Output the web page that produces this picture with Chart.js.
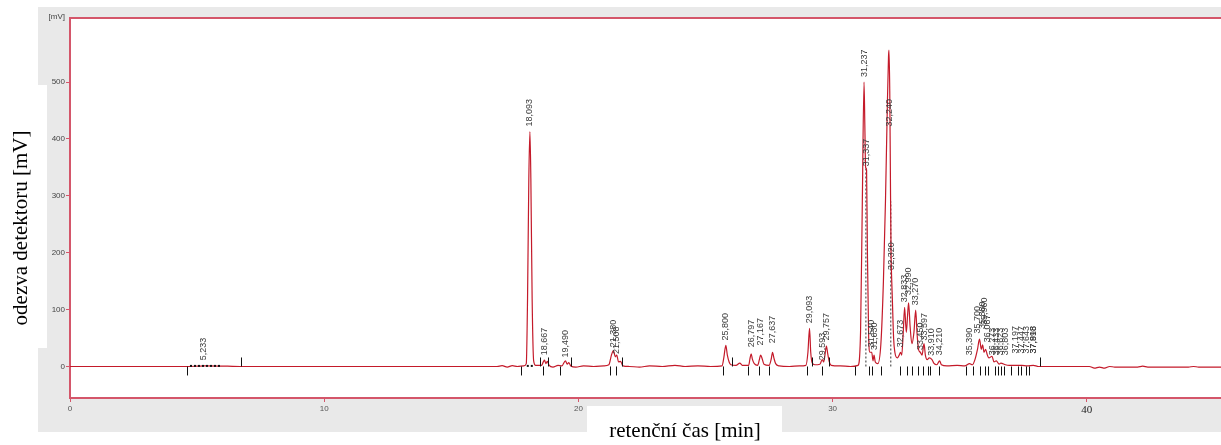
<!DOCTYPE html>
<html>
<head>
<meta charset="utf-8">
<script src="https://cdn.jsdelivr.net/npm/chart.js@4.4.1/dist/chart.umd.min.js"></script>
<style>
  html, body { margin: 0; padding: 0; background: #ffffff; }
  canvas { display: block; }
</style>
</head>
<body>
<canvas id="c" width="1221" height="445"></canvas>
<script>
// Chromatogram trace: retention time [min] and detector response [mV]
const traceTime = [
  0, 4.5, 5.0, 5.3, 6.2, 6.7, 16.8, 17.0, 17.2, 17.4, 17.6, 17.85,
  17.95, 18.0, 18.05, 18.093, 18.13, 18.18, 18.24, 18.32,
  18.55, 18.62, 18.667, 18.72, 18.78, 18.85, 19.0, 19.2, 19.35, 19.49, 19.56, 19.62, 19.7, 19.9,
  20.2, 20.6, 21.0, 21.2, 21.3, 21.38, 21.45, 21.508, 21.58, 21.66, 21.75,
  22.0, 22.4, 22.8, 23.3, 23.8, 24.2, 24.7, 25.2, 25.65,
  25.72, 25.8, 25.86, 25.93, 26.0, 26.2, 26.35, 26.45, 26.7,
  26.75, 26.797, 26.85, 26.92, 27.05, 27.12, 27.167, 27.22, 27.3, 27.5, 27.59, 27.637, 27.69, 27.76, 27.9,
  28.3, 28.7, 28.95, 29.03, 29.093, 29.14, 29.2, 29.3, 29.5, 29.593, 29.65, 29.7, 29.757, 29.81, 29.87, 29.95,
  30.3, 30.7, 31.0, 31.1, 31.17, 31.237, 31.27, 31.3, 31.337, 31.37, 31.42, 31.47,
  31.54, 31.59, 31.63, 31.68, 31.78, 31.9, 32.0, 32.08, 32.15, 32.2, 32.22, 32.25, 32.28, 32.3, 32.32, 32.35, 32.4, 32.45,
  32.55, 32.62, 32.673, 32.72, 32.78, 32.833, 32.9, 32.95, 32.99, 33.05, 33.12, 33.2, 33.27, 33.32, 33.38,
  33.45, 33.52, 33.597, 33.65, 33.72, 33.8, 33.91, 33.98, 34.1, 34.21, 34.28, 34.5, 34.9, 35.2, 35.39, 35.5,
  35.6, 35.7, 35.78, 35.85, 35.9, 35.96, 36.02, 36.09, 36.15, 36.27, 36.35, 36.44, 36.55, 36.62, 36.8, 36.95,
  37.2, 37.45, 37.65, 37.9, 38.1, 40.1, 40.3, 40.5, 40.7, 40.9, 41.1, 42.0, 42.2, 42.4, 44.0, 44.2, 44.4, 45.3
];
const traceMV = [
  0, 0, 0.5, 1, 0.5, 0, 0, 1.5, -1, 1.5, 0, 1,
  5, 120, 330, 413, 330, 120, 10, 2,
  2, 8, 11, 5, 9, 2, -1, 2, 1, 10, 4, 7, 1, -1,
  1, 0, 1, 3, 20, 28, 17, 20, 8, 9, 1,
  0, -1, 1, 0, 2, 0, 1, 0, 1,
  15, 37, 20, 8, 3, 2, 6, 2, 2,
  14, 22, 12, 5, 2, 12, 20, 15, 4, 2, 14, 25, 15, 5, 1,
  0, 1, 2, 25, 67, 25, 6, 3, 4, 12, 8, 20, 36, 22, 8, 2,
  1, 0, 2, 60, 290, 500, 420, 350, 345, 200, 50, 25,
  25, 10, 20, 8, 5, 40, 150, 290, 450, 545, 556, 480, 300, 200, 160, 120, 50, 25,
  15, 20, 25, 20, 60, 104, 60, 90, 112, 70, 40, 60, 99, 60, 30,
  25, 20, 40, 20, 12, 15, 12, 6, 3, 10, 3, 1, 2, 1, 5, 3,
  12, 30, 48, 30, 38, 25, 30, 20, 15, 18, 8, 10, 4, 6, 3, 2,
  2, 2, 1, 2, 0, 0, -3, -1, -3, 0, -1, -1, 0.5, -1, -1, 0, -1, -1
];

// Integrated peaks: retention time labels and where each label sits [mV]
const peakTime = [
  5.233, 18.093, 18.667, 19.490, 21.380, 21.508, 25.800, 26.797, 27.167, 27.637,
  29.093, 29.593, 29.757, 31.237, 31.337, 31.540, 31.630, 32.240, 32.320, 32.673,
  32.833, 32.990, 33.270, 33.450, 33.597, 33.910, 34.210, 35.390, 35.700, 35.880,
  35.960, 36.087, 36.273, 36.433, 36.623, 36.803, 37.197, 37.447, 37.643, 37.898, 37.918
];
const peakLabelMV = [
  2, 413, 11, 7, 25, 13, 37, 25, 28, 32,
  67, 2, 37, 500, 343, 25, 20, 413, 161, 25,
  104, 117, 99, 20, 37, 10, 11, 11, 49, 57,
  64, 34, 11, 11, 11, 11, 14, 14, 14, 14, 14
];

// Integration markers: peak start (below baseline) and peak end (above baseline)
const startMarks = [
  4.6, 17.76, 18.6, 19.27, 21.26, 21.46, 25.7, 26.69, 27.1, 27.5, 28.98, 29.6, 30.9,
  31.42, 31.54, 31.89, 32.64, 32.91, 33.11, 33.35, 33.54, 33.74, 33.82, 34.17, 35.24,
  35.51, 35.79, 35.98, 36.1, 36.38, 36.5, 36.61, 36.73, 37.0, 37.28, 37.4, 37.6, 37.72
];
const endMarks = [6.73, 18.48, 18.8, 19.72, 21.73, 26.06, 29.2, 29.84, 38.15];

// Dotted baselines and drop lines
const dotFrom = [4.72, 17.97];
const dotTo = [5.94, 18.24];
const dropTime = [31.31, 32.29];
const dropMV = [350, 290];

const xTicks = [0, 10, 20, 30, 40];
const yTicks = [0, 100, 200, 300, 400, 500];

const SANS = '"Liberation Sans", Arial, sans-serif';
const SERIF = '"Liberation Serif", "Times New Roman", serif';

const traceData = traceTime.map((t, i) => ({ x: t, y: traceMV[i] }));
const dotSets = dotFrom.map((a, i) => ({
  data: [{ x: a, y: 1 }, { x: dotTo[i], y: 1 }],
  borderColor: '#111', borderWidth: 2, borderDash: [2, 2], pointRadius: 0, order: 0
}));
const dropSets = dropTime.map((t, i) => ({
  data: [{ x: t, y: 0 }, { x: t, y: dropMV[i] }],
  borderColor: '#333', borderWidth: 1, borderDash: [2, 2], pointRadius: 0, order: 2
}));

const frame = {
  id: 'frame',
  beforeDraw(chart) {
    const c = chart.ctx, a = chart.chartArea;
    c.save();
    c.fillStyle = '#ffffff';
    c.fillRect(0, 0, chart.width, chart.height);
    c.fillStyle = '#e9e9e9';
    c.fillRect(38, 7, chart.width - 38, 425);
    c.fillStyle = '#ffffff';
    c.fillRect(0, 85, 47, 263);
    c.fillRect(587, 406, 195, 39);
    c.fillRect(a.left, a.top, a.right - a.left, a.bottom - a.top);
    c.restore();
  },
  beforeDatasetsDraw(chart) {
    const c = chart.ctx, a = chart.chartArea;
    c.save();
    c.strokeStyle = '#d4566a';
    c.lineWidth = 2;
    c.beginPath();
    c.moveTo(a.right, a.top);
    c.lineTo(a.left, a.top);
    c.lineTo(a.left, a.bottom);
    c.lineTo(a.right, a.bottom);
    c.stroke();
    c.restore();
  },
  afterDatasetsDraw(chart) {
    const c = chart.ctx, xs = chart.scales.x, ys = chart.scales.y;
    const y0 = ys.getPixelForValue(0);
    c.save();
    // integration markers
    c.strokeStyle = '#111';
    c.lineWidth = 1;
    c.beginPath();
    startMarks.forEach(t => {
      const x = Math.round(xs.getPixelForValue(t)) + 0.5;
      c.moveTo(x, y0); c.lineTo(x, y0 + 9);
    });
    endMarks.forEach(t => {
      const x = Math.round(xs.getPixelForValue(t)) + 0.5;
      c.moveTo(x, y0); c.lineTo(x, y0 - 9);
    });
    c.stroke();
    // peak labels
    c.fillStyle = '#3a3a3a';
    c.font = '9px ' + SANS;
    c.textAlign = 'left';
    c.textBaseline = 'middle';
    peakTime.forEach((t, i) => {
      const x = xs.getPixelForValue(t);
      const y = ys.getPixelForValue(peakLabelMV[i]) - 5;
      c.save();
      c.translate(x, y);
      c.rotate(-Math.PI / 2);
      c.fillText(t.toFixed(3).replace('.', ','), 0, 0);
      c.restore();
    });
    // unit label
    c.font = '8px ' + SANS;
    c.fillStyle = '#444';
    c.textAlign = 'right';
    c.fillText('[mV]', 65, 17);
    // axis titles
    c.fillStyle = '#000';
    c.font = '21px ' + SERIF;
    c.textAlign = 'center';
    c.textBaseline = 'alphabetic';
    c.fillText('retenční čas [min]', 685, 437);
    c.save();
    c.translate(27, 228);
    c.rotate(-Math.PI / 2);
    c.fillText('odezva detektoru [mV]', 0, 0);
    c.restore();
    c.restore();
  }
};

new Chart(document.getElementById('c'), {
  type: 'line',
  data: {
    datasets: [
      {
        data: traceData,
        borderColor: '#c41a2a',
        borderWidth: 1.2,
        pointRadius: 0,
        cubicInterpolationMode: 'monotone',
        order: 1
      },
      ...dotSets,
      ...dropSets
    ]
  },
  options: {
    responsive: false,
    animation: false,
    devicePixelRatio: 1,
    parsing: true,
    layout: { padding: { top: 18, left: 0, right: 0, bottom: 0 } },
    plugins: { legend: { display: false }, tooltip: { enabled: false } },
    scales: {
      x: {
        type: 'linear',
        min: 0,
        max: 45.28,
        afterBuildTicks: s => { s.ticks = xTicks.map(v => ({ value: v })); },
        afterFit: s => { s.height = 47; },
        border: { display: false },
        grid: { display: true, drawOnChartArea: false, drawTicks: true, tickLength: 4, tickColor: '#d4566a' },
        ticks: {
          autoSkip: false, maxRotation: 0, padding: 2,
          color: ctx => ctx.tick && ctx.tick.value === 40 ? '#222' : '#555',
          font: ctx => (ctx.tick && ctx.tick.value === 40)
            ? { family: SERIF, size: 11 }
            : { family: SANS, size: 8 }
        }
      },
      y: {
        type: 'linear',
        min: -55.4,
        max: 612.5,
        afterBuildTicks: s => { s.ticks = yTicks.map(v => ({ value: v })); },
        afterFit: s => { s.width = 70; },
        border: { display: false },
        grid: { display: true, drawOnChartArea: false, drawTicks: true, tickLength: 4, tickColor: '#d4566a' },
        ticks: { color: '#444', padding: 1, font: { family: SANS, size: 8 } }
      }
    }
  },
  plugins: [frame]
});
</script>
</body>
</html>
